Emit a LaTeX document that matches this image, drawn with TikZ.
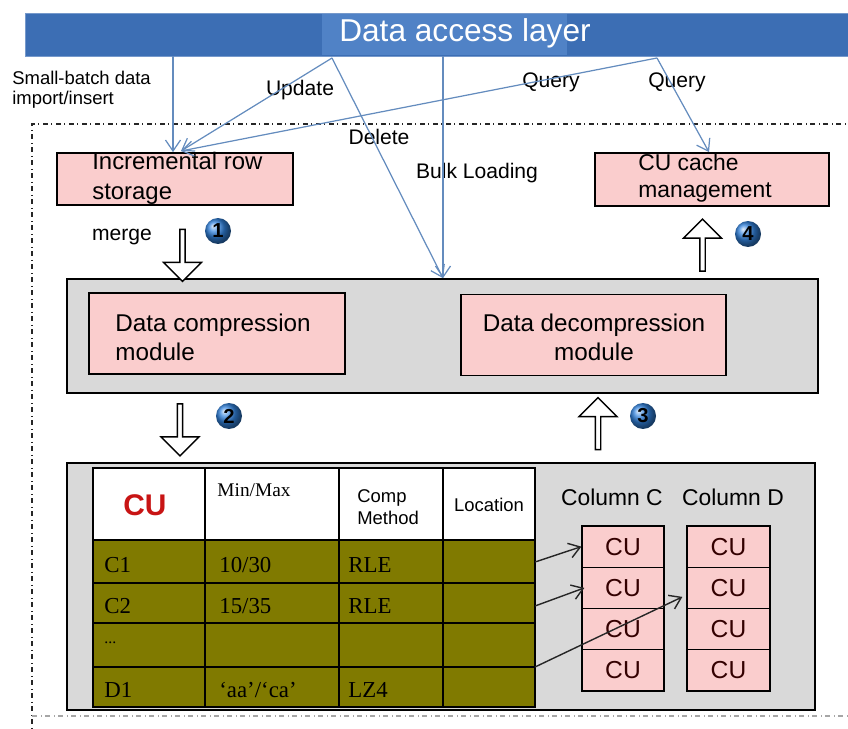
\documentclass[tikz,border=0pt]{standalone}
\usepackage{fontspec}
\setmainfont{Liberation Sans}
\newfontfamily\serifcell{Liberation Serif}
\usetikzlibrary{shapes,arrows.meta,positioning,calc}
\definecolor{barblue}{RGB}{60,110,180}
\definecolor{barlight}{RGB}{80,130,198}
\definecolor{linkblue}{RGB}{100,140,190}
\definecolor{pinkfill}{RGB}{250,205,205}
\definecolor{grayfill}{RGB}{217,217,217}
\definecolor{cellolive}{RGB}{128,122,0}
\definecolor{cured}{RGB}{200,20,20}
\definecolor{badgeblue}{RGB}{50,130,220}

\tikzset{
  pinkbox/.style={rectangle, draw, line width=1pt, fill=pinkfill, inner sep=0},
  graybox/.style={rectangle, draw, line width=1pt, fill=grayfill, inner sep=0},
  cubox/.style={rectangle, draw, line width=0.7pt, fill=pinkfill, inner sep=0,
    minimum height=0.825cm, font=\fontsize{14}{16}\selectfont, text=black!80!red},
  link/.style={draw=linkblue, line width=0.7pt, -{Straight Barb[length=2.2mm,width=3mm]}},
  cuarrow/.style={draw=black!85, line width=0.8pt, -{Straight Barb[length=2.2mm,width=3mm]}},
  lbl/.style={inner sep=0, font=\fontsize{12}{14}\selectfont},
  cell/.style={anchor=west, inner sep=0, font=\serifcell\fontsize{13}{15}\selectfont},
  badge/.style={circle, ball color=badgeblue, inner sep=0, minimum size=0.52cm,
    font=\bfseries\fontsize{11.5}{11.5}\selectfont},
  bigarrow/.style={single arrow, draw, line width=0.8pt, fill=white, inner sep=0,
    minimum height=1.04cm, minimum width=0.76cm, single arrow head extend=0.085cm},
}

\begin{document}
\begin{tikzpicture}[x=0.02cm, y=-0.02cm]
\useasboundingbox (0,0) rectangle (848,729);

% outer dash-dot frame
\draw[dash dot, line width=0.8pt, black!85] (880,124) -- (32,124) -- (32,740);
\draw[dash dot, line width=0.6pt, black!35] (32,716) -- (880,716);

% data access layer
\node[rectangle, fill=barblue, draw=barblue!70!white, minimum width=16.46cm, minimum height=0.86cm, inner sep=0] (dal) at (436.5,34.5) {};
\fill[barlight] (322,14) rectangle (567,55);
\node[text=white, inner sep=0, font=\fontsize{18}{20}\selectfont] (dalTxt) at (465,33) {Data access layer};

% boxes under the layer
\node[pinkbox, minimum width=4.72cm, minimum height=1.04cm] (inc) at (175,179) {};
\node[anchor=west, align=left, inner sep=0, font=\fontsize{13.6}{17}\selectfont] (incTxt) at (92,178) {Incremental row\\storage};
\node[pinkbox, minimum width=4.68cm, minimum height=1.06cm] (cuc) at (712,179.5) {};
\node[anchor=west, align=left, inner sep=0, font=\fontsize{13}{15.4}\selectfont] (cucTxt) at (638,178.5) {CU cache\\management};

% labels of the links
\node[anchor=west, align=left, inner sep=0, font=\fontsize{10.5}{11.4}\selectfont] (smallLbl) at (12,90) {Small-batch data\\import/insert};
\node[lbl] (updLbl) at (300,90) {Update};
\node[lbl] (qryLbl1) at (551,82) {Query};
\node[lbl] (qryLbl2) at (677,82) {Query};
\node[lbl] (delLbl) at (379,137) {Delete};
\node[lbl] (bulkLbl) at (477,173) {Bulk Loading};

% links from the layer
\coordinate (pSmall) at (173,56);
\coordinate (pUpd) at (332,58);
\coordinate (pBulk) at (443,56);
\coordinate (pQry) at (657,58);
\coordinate (incIn) at (181,151);
\draw[link] (pSmall) -- (pSmall |- inc.north);
\draw[link] (pUpd) -- (incIn);
\draw[link] (pQry) -- (incIn);
\draw[link] (pQry) -- ($(cuc.north)+(-3,0)$);

% compression layer
\node[graybox, minimum width=15.02cm, minimum height=2.28cm] (mods) at (442.5,336) {};
\node[pinkbox, minimum width=5.12cm, minimum height=1.62cm] (comp) at (217,333.5) {};
\node[anchor=west, align=left, inner sep=0, font=\fontsize{13.8}{16.5}\selectfont] (compTxt) at (115,337) {Data compression\\module};
\node[pinkbox, minimum width=5.3cm, minimum height=1.62cm] (decomp) at (593.5,335) {};
\node[align=center, inner sep=0, font=\fontsize{13.8}{16.5}\selectfont] (decompTxt) at (594,337) {Data decompression\\module};

\draw[link] (pUpd) -- (pBulk |- mods.north);
\draw[link] (pBulk) -- (pBulk |- mods.north);

% steps
\node[lbl] (mergeLbl) at (122,237) {merge};
\node[bigarrow, shape border rotate=270] (a1) at (182.5,254) {};
\node[badge] (b1) at (218,231) {1};
\node[bigarrow, shape border rotate=90] (a4) at (702.5,246.5) {};
\node[badge] (b4) at (748,234) {4};
\node[bigarrow, shape border rotate=270] (a2) at (180,428.5) {};
\node[badge] (b2) at (229,416) {2};
\node[bigarrow, shape border rotate=90] (a3) at (598,425) {};
\node[badge] (b3) at (643,416) {3};

% CU table
\node[graybox, minimum width=14.96cm, minimum height=4.94cm] (store) at (441,586.5) {};
\fill[white] (93,468) rectangle (535,540);
\fill[cellolive] (93,540) rectangle (535,707);
\draw[line width=1.2pt] (93,468) rectangle (535,707);
\foreach \x in {205,339,443}
  \draw[line width=1pt] (\x,468) -- (\x,707);
\foreach \y in {540,583,623,667}
  \draw[line width=1.2pt] (93,\y) -- (535,\y);

\node[inner sep=0, text=cured, font=\bfseries\fontsize{17}{19}\selectfont] (hCU) at (145,505) {CU};
\node[inner sep=0, font=\serifcell\fontsize{11}{13}\selectfont] (hMin) at (254,490) {Min/Max};
\node[anchor=west, align=left, inner sep=0, font=\fontsize{10.5}{12.5}\selectfont] (hComp) at (357,507) {Comp\\Method};
\node[inner sep=0, font=\fontsize{10.5}{12.5}\selectfont] (hLoc) at (489,505) {Location};

\node[cell] (rC1) at (104,565) {C1};
\node[cell] (mC1) at (219,565) {10/30};
\node[cell] (kC1) at (348,565) {RLE};
\node[cell] (rC2) at (104,606) {C2};
\node[cell] (mC2) at (219,606) {15/35};
\node[cell] (kC2) at (348,606) {RLE};
\node[cell, font=\serifcell\fontsize{9}{10}\selectfont] (rDots) at (104,643) {...};
\node[cell] (rD1) at (104,690) {D1};
\node[cell] (mD1) at (219,690) {‘aa’/‘ca’};
\node[cell] (kD1) at (348,690) {LZ4};

% column stores
\node[lbl, font=\fontsize{13}{15}\selectfont] (colC) at (612,497) {Column C};
\node[lbl, font=\fontsize{13}{15}\selectfont] (colD) at (733,497) {Column D};
\foreach \i in {1,...,4} {
  \node[cubox, minimum width=1.64cm] (cC\i) at (623,{526+41.25*(\i-0.5)}) {CU};
  \node[cubox, minimum width=1.66cm] (cD\i) at (728.5,{526+41.25*(\i-0.5)}) {CU};
}

\coordinate (tC1) at (535,562);
\coordinate (tC2) at (535,606);
\coordinate (tD1) at (535,667);
\draw[cuarrow] (tC1) -- (cC1.west);
\draw[cuarrow] (tC2) -- ($(cC2.west)+(3,0)$);
\draw[cuarrow] (tD1) -- ($(cD2.west)+(-4,9)$);
\end{tikzpicture}
\end{document}
